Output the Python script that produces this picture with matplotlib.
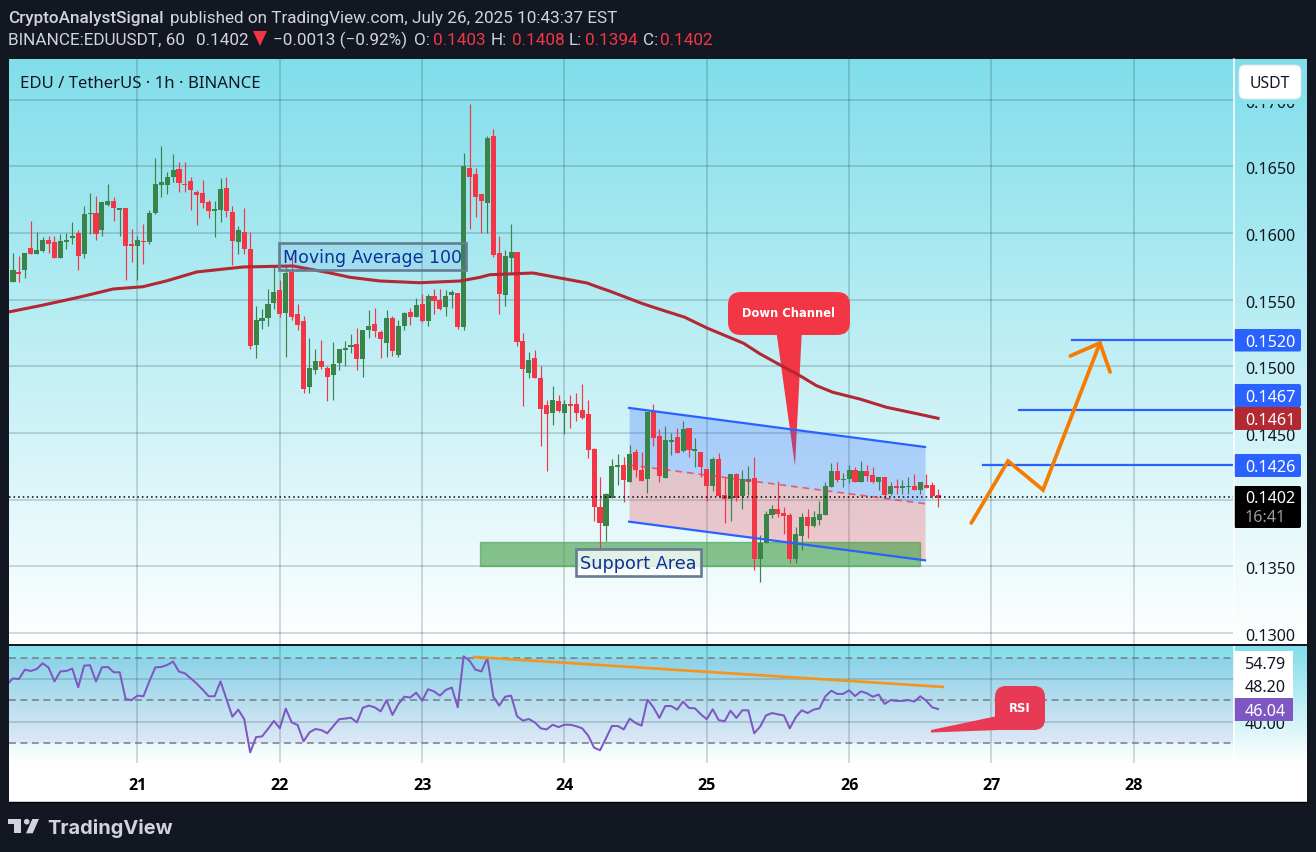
import numpy as np
import matplotlib
matplotlib.use("Agg")
import matplotlib.pyplot as plt
from matplotlib.patches import FancyBboxPatch, Rectangle, Polygon, Circle
from matplotlib.transforms import Affine2D, Bbox
from matplotlib.colors import LinearSegmentedColormap

# ---------------- data (prices in units of 0.0001) ----------------
UNIT = 1e-4
opens = [1563.0,1571.0,1572.0,1588.7,1584.7,1586.7,1595.0,1593.7,1581.0,1593.7,1596.0,1600.2,1584.0,1614.0,1615.2,1602.0,1621.2,1624.2,1617.7,1619.0,
 1592.0,1590.0,1594.2,1593.5,1615.2,1636.2,1636.2,1642.2,1648.2,1637.0,1639.2,1631.0,1630.2,1623.5,1616.7,1617.5,1634.0,1616.0,1593.5,1601.0,
 1588.2,1516.2,1534.2,1536.5,1547.7,1557.5,1540.2,1571.0,1539.5,1534.2,1484.9,1497.4,1504.2,1498.9,1493.7,1502.7,1512.4,1514.7,1516.9,1505.7,
 1527.4,1531.9,1525.9,1517.7,1536.4,1508.7,1530.4,1540.9,1537.2,1546.9,1534.2,1552.9,1549.9,1544.7,1553.7,1555.2,1529.7,1648.9,1644.4,1629.4,
 1622.7,1672.9,1585.2,1553.7,1581.4,1585.9,1519.2,1495.2,1506.4,1491.4,1471.2,1465.2,1474.2,1465.2,1471.9,1471.9,1467.4,1464.4,1438.2,1394.7,
 1380.4,1401.4,1424.7,1426.1,1413.3,1435.8,1422.3,1415.6,1465.8,1447.8,1416.3,1443.3,1447.1,1436.6,1453.8,1436.6,1435.8,1423.1,1410.3,1430.6,
 1403.6,1400.6,1419.3,1402.8,1413.3,1416.3,1355.6,1367.6,1388.6,1393.1,1390.1,1388.6,1355.6,1372.8,1387.1,1380.3,1384.8,1388.6,1409.6,1421.6,
 1414.8,1415.6,1422.3,1413.3,1421.6,1418.6,1413.3,1417.1,1404.3,1410.3,1408.8,1409.6,1410.3,1407.3,1411.1,1411.1,1403.6]
highs = [1585.2,1583.2,1585.2,1609.0,1601.0,1597.0,1598.0,1598.2,1599.5,1600.2,1608.2,1602.5,1620.5,1630.2,1628.0,1623.5,1637.0,1627.2,1619.0,1619.0,
 1603.2,1598.2,1607.0,1617.5,1656.5,1665.2,1646.0,1659.5,1653.5,1653.5,1642.2,1632.5,1640.0,1625.0,1624.2,1641.5,1642.2,1620.5,1605.5,1619.0,
 1601.0,1545.5,1543.2,1558.2,1576.2,1565.0,1576.2,1582.2,1547.0,1537.9,1521.4,1513.2,1519.9,1500.4,1518.4,1513.2,1519.2,1524.4,1528.9,1527.4,
 1542.4,1543.9,1527.4,1542.4,1537.9,1534.9,1540.9,1543.9,1551.4,1554.4,1554.4,1558.2,1558.2,1557.4,1557.4,1555.2,1660.2,1696.9,1648.9,1629.4,
 1672.9,1678.2,1597.9,1587.4,1606.9,1585.9,1525.2,1510.9,1512.4,1500.4,1474.9,1485.4,1478.7,1474.9,1478.7,1480.2,1486.9,1474.9,1438.9,1417.2,
 1405.2,1430.7,1434.4,1432.1,1441.1,1438.1,1435.8,1465.8,1471.8,1453.1,1455.3,1450.1,1453.8,1459.1,1453.8,1446.3,1435.8,1423.1,1432.1,1435.1,
 1416.3,1419.3,1420.1,1422.3,1425.3,1432.1,1373.6,1391.6,1396.1,1414.1,1394.6,1390.1,1379.6,1390.1,1393.1,1391.6,1399.1,1413.3,1427.6,1428.3,
 1420.1,1426.1,1424.6,1429.1,1426.1,1424.6,1417.1,1417.1,1413.3,1415.6,1414.8,1417.1,1419.3,1413.3,1419.3,1413.3,1408.1]
lows = [1563.0,1563.7,1566.7,1584.0,1584.7,1586.0,1585.2,1581.0,1581.0,1588.2,1591.5,1572.7,1581.7,1599.5,1594.5,1598.2,1620.5,1609.2,1598.0,1564.5,
 1578.2,1565.2,1577.2,1592.0,1614.5,1627.2,1629.5,1638.5,1631.0,1631.0,1617.5,1606.2,1619.0,1611.5,1597.2,1608.5,1612.2,1576.2,1584.5,1584.5,
 1513.2,1506.5,1528.2,1530.5,1543.2,1537.2,1507.2,1535.0,1527.5,1480.4,1480.4,1494.4,1498.2,1474.2,1474.9,1497.4,1500.4,1510.2,1497.4,1492.2,
 1521.4,1522.2,1506.4,1507.2,1507.9,1507.2,1527.4,1531.2,1537.2,1533.4,1530.4,1539.4,1542.4,1537.9,1543.9,1528.2,1527.4,1603.2,1612.2,1600.2,
 1600.2,1582.2,1539.4,1545.4,1570.2,1515.4,1470.4,1491.4,1491.4,1440.4,1421.7,1456.2,1465.9,1449.4,1453.9,1459.2,1460.7,1431.4,1384.2,1360.2,
 1369.2,1401.4,1411.2,1398.3,1413.3,1417.1,1414.1,1405.1,1440.3,1413.3,1416.3,1433.6,1435.1,1435.8,1432.1,1424.6,1417.1,1399.1,1406.6,1402.1,
 1382.6,1384.1,1399.1,1393.1,1403.6,1347.3,1338.3,1367.6,1386.3,1387.1,1374.3,1352.6,1352.6,1362.3,1371.3,1379.6,1381.1,1388.6,1409.6,1413.3,
 1409.6,1412.6,1413.3,1413.3,1414.1,1412.6,1407.3,1401.3,1403.6,1404.3,1404.3,1404.3,1407.3,1404.3,1408.8,1401.3,1394.6]
closes = [1572.5,1569.7,1585.2,1584.0,1587.5,1595.0,1591.5,1581.0,1594.2,1595.0,1598.0,1582.5,1614.5,1615.2,1599.5,1623.5,1624.2,1618.5,1619.0,1590.7,
 1590.0,1595.0,1593.5,1615.2,1637.0,1638.5,1642.2,1647.5,1637.7,1636.2,1632.5,1628.7,1622.7,1616.7,1618.2,1633.2,1616.7,1594.2,1602.5,1588.2,
 1515.5,1535.0,1536.5,1547.0,1556.0,1539.5,1570.2,1537.2,1531.2,1483.4,1498.9,1504.2,1499.7,1492.2,1501.9,1513.2,1513.9,1516.2,1505.7,1527.4,
 1530.4,1526.7,1520.7,1536.4,1511.7,1530.4,1540.2,1537.2,1546.2,1534.2,1552.9,1549.2,1543.2,1552.9,1555.9,1529.7,1650.4,1642.2,1627.2,1624.2,
 1671.4,1583.7,1554.4,1582.9,1585.9,1518.4,1498.2,1504.9,1491.4,1468.2,1464.4,1474.9,1466.7,1471.9,1470.4,1465.2,1461.4,1437.4,1394.7,1382.7,
 1404.4,1425.4,1426.2,1414.8,1434.3,1422.3,1414.3,1465.8,1446.3,1417.8,1444.8,1444.8,1435.1,1453.1,1437.3,1438.1,1424.6,1410.3,1430.6,1402.8,
 1400.6,1419.3,1401.3,1415.6,1415.6,1355.6,1367.6,1389.3,1393.1,1389.3,1387.8,1355.6,1374.3,1387.1,1380.3,1387.1,1389.3,1410.3,1421.6,1414.8,
 1415.6,1422.3,1413.3,1421.6,1417.8,1413.3,1417.1,1403.6,1410.3,1408.8,1410.3,1410.3,1407.3,1413.3,1408.8,1402.8,1401.3]

ma_hours = [-21.7,-16.4,-9.7,-4.1,0.9,5,10,17.8,26.2,32.5,35.8,40.9,47.6,54.4,57.8,59.4,66.7,75.8,78,79.7,85.0,87.0,92.3,96.0,102.2,105.0,108.3,111.7,114.5,117.3,121.8,126.3,131.4,135.0]
ma_values = [1540.9,1545.6,1552.1,1558.1,1559.8,1564.3,1570.9,1574.6,1575.4,1570.1,1566.9,1564.1,1562.8,1564.1,1566.9,1568.8,1570.1,1562.6,1559.0,1556.4,1547.4,1544.4,1536.9,1528.9,1517.4,1509.4,1501.3,1493.1,1485.6,1480.6,1475.6,1469.4,1464.6,1461.1]

rsi_hours_before = [-22]
rsi_before = [57.4]
rsi = [60.3,60.0,64.4,63.8,64.7,67.4,65.4,58.9,63.6,63.8,64.9,56.1,66.3,66.5,58.9,65.5,65.7,63.2,63.2,50.6,
 50.1,52.2,51.9,58.9,65.5,65.7,66.6,68.2,63.5,62.7,60.3,57.8,55.0,51.9,51.9,58.9,50.6,42.3,45.6,41.1,
 25.5,32.7,33.0,36.5,40.3,36.8,46.1,39.6,38.4,30.7,34.9,36.5,36.0,34.5,37.8,41.1,41.4,41.8,39.6,46.5,
 47.5,46.7,44.8,50.0,43.1,48.3,51.7,51.3,53.6,49.8,55.2,54.2,52.2,54.9,56.0,46.7,70.7,68.6,64.4,63.6,
 69.9,51.7,47.5,51.7,52.2,42.5,40.4,41.2,39.6,36.8,36.3,38.5,37.4,38.5,38.5,37.8,36.8,33.4,27.7,26.5,
 32.1,37.9,37.9,36.3,41.4,39.3,38.1,50.3,46.7,41.7,47.3,47.3,45.6,49.4,46.4,46.2,43.4,41.1,45.8,40.7,
 40.1,45.1,41.7,45.3,45.3,34.5,37.6,42.9,44.0,43.4,42.9,36.8,42.0,45.3,44.0,45.6,46.2,51.9,54.5,53.0,
 53.0,54.7,52.0,54.2,53.3,51.7,52.7,48.3,50.1,49.7,49.7,50.1,49.4,51.9,49.8,46.7,45.9]

price_ticks = [0.1300,0.1350,0.1400,0.1450,0.1500,0.1550,0.1600,0.1650,0.1700]
price_labels = ["0.1300","0.1350","","0.1450","0.1500","0.1550","0.1600","0.1650","0.1700"]
day_hours = [0,24,48,72,96,120,144,168]
day_labels = ["21","22","23","24","25","26","27","28"]
rsi_levels = [30,50,70]
rsi_ticks = [40,60]
target_levels = [(157.6,1519.9),(148.6,1467.4),(142.6,1426.1)]
last_price = 0.1402
channel_hours = [82.9,132.8]
channel_top = [1468.9,1439.6]
channel_mid = [1426.1,1397.1]
channel_bottom = [1383.6,1354.6]
support_hours = [57.8,131.9]
support_prices = [1350.1,1368.6]
arrow_hours = [140.6,146.8,152.7,162.3]
arrow_prices = [1382.6,1429.1,1407.4,1517.6]
head_hours = [157.3,162.3,164.0]
head_prices = [1507.9,1517.6,1495.9]
rsi_trend_hours = [56.75,135.8]
rsi_trend_values = [70.4,56.3]

# ---------------- figure set-up ----------------
W, H = 1316, 853
DARK = "#131722"
fig = plt.figure(figsize=(W/100, H/100), dpi=100, facecolor=DARK)
PX = Affine2D().scale(1, -1).translate(0, H)      # pixel layout helper

def frect(x0, y0, x1, y1):
    return [x0/W, 1-y1/H, (x1-x0)/W, (y1-y0)/H]

bg = fig.add_axes([0, 0, 1, 1], zorder=0)
cmap = LinearSegmentedColormap.from_list("g", ["#80DEEA", "#FFFFFF"])
grad = np.linspace(0, 1, 256)[:, None]
bg.imshow(grad, cmap=cmap, extent=(9, 1307, 645, 60), aspect="auto", zorder=1)
bg.imshow(grad, cmap=cmap, extent=(9, 1307, 764, 646), aspect="auto", zorder=1)
bg.add_patch(Rectangle((9, 764), 1298, 38.5, fc="white", ec="none", zorder=1))
bg.set_xlim(0, W); bg.set_ylim(H, 0); bg.axis("off")

hours = np.arange(len(opens)) - 21
x_left = (9-137.5)/5.93
x_right = (1233-137.5)/5.93
GREEN, RED = "#3b8449", "#f23645"
FONT = "Noto Sans"
TICKC = "#131722"
GRIDC = "#1a3a47"

ax = fig.add_axes(frect(9, 60, 1233, 645), zorder=2)
ax.patch.set_alpha(0)
rs = fig.add_axes(frect(9, 646, 1233, 764), zorder=2)
rs.patch.set_alpha(0)
for a in (ax, rs):
    for s in a.spines.values():
        s.set_visible(False)
    a.set_axisbelow(True)
    a.grid(True, color=GRIDC, lw=1.1, alpha=0.24)
    a.tick_params(length=0)

# ---------------- price pane ----------------
o, h, l, c = [np.array(v)*UNIT for v in (opens, highs, lows, closes)]
cols = [GREEN if ci >= oi else RED for oi, ci in zip(o, c)]
ax.vlines(hours, l, h, colors=cols, lw=0.85, zorder=3)
ax.bar(hours, np.maximum(np.abs(c-o), 1.5e-5), bottom=np.minimum(o, c), width=0.86, color=cols, lw=0, zorder=3.1)

ax.fill_between(channel_hours, np.array(channel_mid)*UNIT, np.array(channel_top)*UNIT, color="#2962ff", alpha=0.25, lw=0, zorder=2)
ax.fill_between(channel_hours, np.array(channel_bottom)*UNIT, np.array(channel_mid)*UNIT, color="#f23645", alpha=0.25, lw=0, zorder=2)
ax.plot(channel_hours, np.array(channel_top)*UNIT, color="#2962ff", lw=1.6, zorder=4)
ax.plot(channel_hours, np.array(channel_bottom)*UNIT, color="#2962ff", lw=1.6, zorder=4)
ax.plot(channel_hours, np.array(channel_mid)*UNIT, color="#f23645", lw=1.2, ls=(0, (4, 3)), alpha=0.75, zorder=4)
ax.add_patch(Rectangle((support_hours[0], support_prices[0]*UNIT), support_hours[1]-support_hours[0],
                       (support_prices[1]-support_prices[0])*UNIT, fc="#43a047", ec="#43a047", alpha=0.62, lw=1, zorder=2.5))

ax.plot(ma_hours, np.array(ma_values)*UNIT, color="#b22833", lw=2.2, zorder=5, solid_joinstyle="round")
ax.axhline(last_price, color="black", lw=1.1, ls=(0, (1, 2)), zorder=3.5)
for start, lvl in target_levels:
    ax.plot([start, x_right], [lvl*UNIT]*2, color="#2962ff", lw=1.6, zorder=4)
ax.plot(arrow_hours, np.array(arrow_prices)*UNIT, color="#f57c00", lw=2.7, solid_capstyle="round", solid_joinstyle="miter", zorder=5)
ax.plot(head_hours, np.array(head_prices)*UNIT, color="#f57c00", lw=2.7, solid_capstyle="round", solid_joinstyle="miter", zorder=5)

# callout "Down Channel"
ax.add_patch(Polygon([(776.7, 335), (801.7, 335), (795, 467)], closed=True, fc=RED, ec="none", transform=PX, clip_on=False, zorder=1.5))
ax.add_patch(FancyBboxPatch((728, 293), 122, 43, boxstyle="round,pad=0,rounding_size=13", fc=RED, ec="none", transform=PX, clip_on=False, zorder=1.6))
ax.text(789, 314, "Down Channel", transform=PX, color="white", fontsize=8.3, fontweight="bold", family="DejaVu Sans", ha="center", va="center", zorder=6)
# labels
ax.add_patch(Rectangle((278.5, 243.5), 187, 27, fc="#3f7fdc", alpha=0.10, lw=0, transform=PX, clip_on=False, zorder=6))
ax.add_patch(Rectangle((278.5, 243.5), 187, 27, fc="none", ec="#667c93", lw=1.9, transform=PX, clip_on=False, zorder=6))
ax.text(372.5, 258, "Moving Average 100", transform=PX, color="#0c3299", fontsize=12.5, family="DejaVu Sans", ha="center", va="center", zorder=7)
ax.add_patch(Rectangle((575.5, 549.5), 125, 27, fc=(1, 1, 1, 0.78), ec="#667c93", lw=1.9, transform=PX, clip_on=False, zorder=6))
ax.text(638.5, 564, "Support Area", transform=PX, color="#0c3299", fontsize=12.7, family="DejaVu Sans", ha="center", va="center", zorder=7)
ax.text(20, 84.5, "EDU / TetherUS · 1h · BINANCE", transform=PX, color=TICKC, fontsize=12.05, family=FONT, ha="left", va="center", zorder=7)

ax.set_xticks(day_hours); ax.set_xticklabels([])
ax.set_yticks(price_ticks); ax.set_yticklabels(price_labels)
ax.yaxis.tick_right()
ax.tick_params(axis="y", pad=8.5, labelsize=11.6, labelcolor=TICKC)
clip_y = Bbox([[1233, 0], [W, H-105]])
for tk, txt in zip(ax.yaxis.get_major_ticks(), price_labels):
    tk.label2.set_family(FONT)
    tk.label2.set_transform(tk.label2.get_transform() + Affine2D().translate(0, -1))
    if txt == "0.1700":
        tk.label2.set_clip_on(True)
        tk.label2.set_clip_box(clip_y)

# right-scale boxes
def pbox(y0, y1, fc, label, tc="white", x1=1301, y_text=None):
    ax.add_patch(FancyBboxPatch((1234, y0), x1-1234, y1-y0, boxstyle="round,pad=0,rounding_size=2", fc=fc, ec="none", transform=PX, clip_on=False, zorder=8))
    ax.text(1245, ((y0+y1)/2 if y_text is None else y_text)+1.5, label, transform=PX, color=tc, fontsize=11.6, family=FONT, ha="left", va="center", zorder=9)

pbox(330, 352.5, "#2962ff", "0.1520")
pbox(385, 408, "#2962ff", "0.1467")
pbox(408, 431, "#b22833", "0.1461")
pbox(455, 478, "#2962ff", "0.1426")
pbox(487, 529, "#000000", "0.1402", y_text=497.5)
ax.text(1245, 518, "16:41", transform=PX, color="#9a9a9a", fontsize=11.6, family=FONT, ha="left", va="center", zorder=9)
ax.add_patch(FancyBboxPatch((1239, 66), 62, 34, boxstyle="round,pad=0,rounding_size=6", fc="white", ec="#dfe3e6", lw=0.6, transform=PX, clip_on=False, zorder=8))
ax.text(1270, 84, "USDT", transform=PX, color=TICKC, fontsize=11.4, family=FONT, ha="center", va="center", zorder=9)

ax.set_xlim(x_left, x_right)
ax.set_ylim(0.129185, 0.17306)

# ---------------- RSI pane ----------------
rs.axhspan(30, 70, color="#7e57c2", alpha=0.10, lw=0, zorder=1)
for lv in rsi_levels:
    rs.axhline(lv, color="#787b86", lw=1.1, ls=(0, (4.5, 3)), zorder=2)
rs.plot(rsi_hours_before + list(hours), rsi_before + rsi, color="#7e57c2", lw=1.45, zorder=4)
rs.plot(rsi_trend_hours, rsi_trend_values, color="#f7931a", lw=1.9, zorder=5)
rs.add_patch(Polygon([(931, 731), (995, 717.5), (1012, 730.5), (931, 733.5)], closed=True, fc="#e83a54", ec="none", transform=PX, clip_on=False, zorder=6))
rs.add_patch(FancyBboxPatch((995, 687), 50, 44, boxstyle="round,pad=0,rounding_size=11", fc="#e83a54", ec="none", transform=PX, clip_on=False, zorder=6))
rs.text(1020, 709, "RSI", transform=PX, color="white", fontsize=8.4, fontweight="bold", family="DejaVu Sans", ha="center", va="center", zorder=7)

rs.set_yticks(rsi_ticks); rs.set_yticklabels(["40.00", ""])
rs.yaxis.tick_right()
rs.tick_params(axis="y", pad=8.5, labelsize=11.6, labelcolor=TICKC)
for t in rs.get_yticklabels():
    t.set_family(FONT)
rs.set_xticks(day_hours); rs.set_xticklabels(day_labels)
rs.tick_params(axis="x", pad=10, labelsize=11.6, labelcolor="black")
for t in rs.get_xticklabels():
    t.set_family("Open Sans"); t.set_fontweight("bold")

def rbox(y0, y1, fc, label, tc):
    rs.add_patch(Rectangle((1234, y0), 59, y1-y0, fc=fc, ec="none", transform=PX, clip_on=False, zorder=8))
    rs.text(1245, (y0+y1)/2+1.5, label, transform=PX, color=tc, fontsize=11.6, family=FONT, ha="left", va="center", zorder=9)
rbox(652, 675.5, "white", "54.79", TICKC)
rbox(675.5, 698.5, "white", "48.20", TICKC)
rbox(699, 722, "#7e57c2", "46.04", "white")
rs.set_xlim(x_left, x_right)
rs.set_ylim(50+(701.3-764)/2.125, 50+(701.3-646)/2.125)

# ---------------- chrome ----------------
top = fig.add_axes([0, 0, 1, 1], zorder=3)
top.set_xlim(0, W); top.set_ylim(H, 0); top.axis("off"); top.patch.set_alpha(0)
top.plot([9, 1307], [645.5, 645.5], color="#131722", lw=1.4)
top.plot([9, 1307], [802.5, 802.5], color="black", lw=1.0)
top.plot([1233.5, 1233.5], [60, 764], color="white", lw=1.1, zorder=0.5)
TXT = "#d1d4dc"
HF = "Roboto"
HS = 12.3
top.text(8, 18, "CryptoAnalystSignal", color=TXT, fontsize=HS, family=HF, fontweight="medium", va="center")
top.text(170, 18, "published on TradingView.com, July 26, 2025 10:43:37 EST", color=TXT, fontsize=HS, family=HF, va="center")
pieces = [(8, "BINANCE:EDUUSDT, 60", TXT), (196, "0.1402", TXT), (273, "−0.0013 (−0.92%)", TXT), (414, "O:", TXT), (433, "0.1403", "#f23645"),
          (491, "H:", TXT), (512, "0.1408", "#f23645"), (569, "L:", TXT), (585, "0.1394", "#f23645"), (643, "C:", TXT), (660, "0.1402", "#f23645")]
for x, s, col in pieces:
    top.text(x, 40.5, s, color=col, fontsize=HS, family=HF, va="center")
top.add_patch(Polygon([(253, 32), (267, 32), (260, 47)], closed=True, fc="#f23645", ec="none"))
# logo
LOGO = "#d1d4dc"
top.add_patch(Polygon([(8, 820), (20.7, 820), (20.7, 834.3), (14, 834.3), (14, 825), (8, 825)], closed=True, fc=LOGO, ec="none"))
top.add_patch(Circle((26.7, 822.7), 2.8, fc=LOGO, ec="none"))
top.add_patch(Polygon([(32.3, 820), (39, 820), (32.7, 834.3), (26, 834.3)], closed=True, fc=LOGO, ec="none"))
top.text(47, 829, "TradingView", color=LOGO, fontsize=14.4, family="Inter", fontweight="bold", va="center")

fig.savefig("out.png", dpi=100, facecolor=DARK)
